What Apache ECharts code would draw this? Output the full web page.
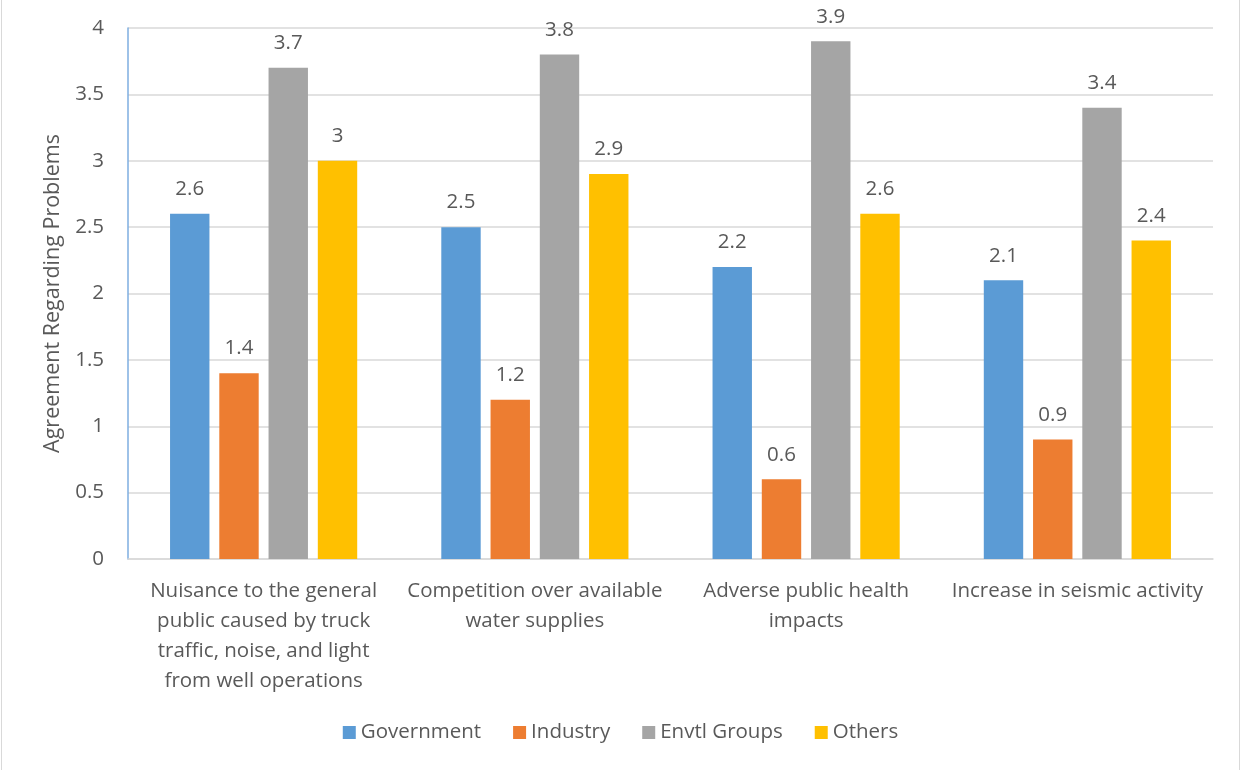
<!DOCTYPE html>
<html>
<head>
<meta charset="utf-8">
<script src="https://cdn.jsdelivr.net/npm/echarts@6/dist/echarts.min.js"></script>
<style>
  html, body { margin: 0; padding: 0; background: #fff; }
  #frame { position: absolute; left: 1px; top: 0; width: 1237px; height: 770px; border-left: 1px solid #d9d9d9; border-right: 1px solid #d9d9d9; }
  #chart { width: 1237px; height: 770px; }
</style>
</head>
<body>
<div id="frame"><div id="chart"></div></div>
<script>
const categories = [
  'Nuisance to the general\npublic caused by truck\ntraffic, noise, and light\nfrom well operations',
  'Competition over available\nwater supplies',
  'Adverse public health\nimpacts',
  'Increase in seismic activity'
];
const government = [2.6, 2.5, 2.2, 2.1];
const industry = [1.4, 1.2, 0.6, 0.9];
const envtlGroups = [3.7, 3.8, 3.9, 3.4];
const others = [3, 2.9, 2.6, 2.4];
const yTicks = [0, 0.5, 1, 1.5, 2, 2.5, 3, 3.5, 4];

const FONT = '"Open Sans", sans-serif';
const TEXT = '#595959';
const FS = 20.5;

function bar(name, data, color) {
  return {
    name, type: 'bar', data,
    barGap: '25%', barCategoryGap: '31%',
    itemStyle: { color },
    label: { show: true, position: 'top', distance: 14, color: TEXT, fontSize: FS, fontFamily: FONT }
  };
}

const chart = echarts.init(document.getElementById('chart'));
chart.setOption({
  animation: false,
  textStyle: { fontFamily: FONT },
  grid: { left: 126, right: 26, top: 28, bottom: 211, containLabel: false },
  legend: {
    bottom: 22, left: 'center', itemWidth: 13, itemHeight: 13, itemGap: 32, itemStyle: { borderWidth: 0 },
    icon: 'rect',
    textStyle: { color: TEXT, fontSize: FS, fontFamily: FONT }
  },
  xAxis: {
    type: 'category', data: categories,
    axisLine: { lineStyle: { color: '#d9d9d9', width: 1.5 } },
    axisTick: { show: false },
    axisLabel: { color: TEXT, fontSize: FS, lineHeight: 30, margin: 17, interval: 0, fontFamily: FONT }
  },
  yAxis: {
    type: 'value', min: yTicks[0], max: yTicks[yTicks.length - 1], interval: 0.5,
    name: 'Agreement Regarding Problems', nameLocation: 'middle', nameGap: 64,
    nameTextStyle: { color: TEXT, fontSize: 21.5, fontFamily: FONT },
    axisLine: { show: true, lineStyle: { color: '#7eaee0', width: 1.5 } },
    axisTick: { show: false },
    splitLine: { lineStyle: { color: '#d9d9d9', width: 1.5 } },
    axisLabel: { color: TEXT, fontSize: FS, margin: 24, fontFamily: FONT }
  },
  series: [
    bar('Government', government, '#5B9BD5'),
    bar('Industry', industry, '#ED7D31'),
    bar('Envtl Groups', envtlGroups, '#A5A5A5'),
    bar('Others', others, '#FFC000')
  ]
});
</script>
</body>
</html>
